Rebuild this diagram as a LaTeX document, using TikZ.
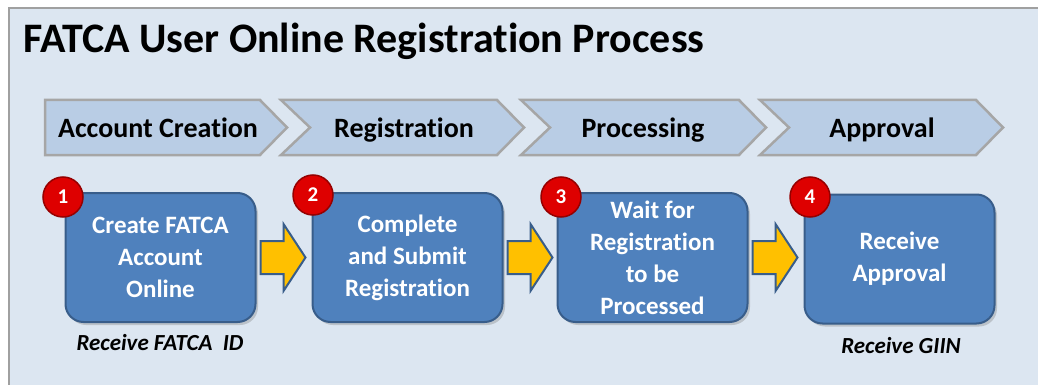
\documentclass[tikz,border=0pt]{standalone}
\usepackage{fontspec}
\setmainfont{Carlito}[Ligatures=NoCommon]
\usetikzlibrary{calc,shadows}
\definecolor{bgfill}{RGB}{220,230,241}
\definecolor{framegray}{RGB}{160,160,160}
\definecolor{chevfill}{RGB}{185,205,229}
\definecolor{chevdraw}{RGB}{166,166,166}
\definecolor{boxfill}{RGB}{79,129,189}
\definecolor{boxdraw}{RGB}{56,93,138}
\definecolor{arrfill}{RGB}{255,192,0}
\definecolor{badgefill}{RGB}{222,0,0}
\definecolor{badgedraw}{RGB}{150,0,0}
\newcommand\yarr[1]{%
  \draw[yarrow] ($(#1.east)+(4,-16.5)$) -- ++(23,0) -- ++(0,-17) -- ($(#1.east)+(49,0)$)
     -- ($(#1.east)+(27,33.5)$) -- ++(0,-17) -- ++(-23,0) -- cycle;}
\begin{document}
\begin{tikzpicture}[x=1pt,y=-1pt,
  frame/.style={fill=bgfill,draw=framegray,line width=2.5pt},
  chev/.style={fill=chevfill,draw=chevdraw,line width=2.5pt,line join=miter},
  chevtext/.style={anchor=base,font=\bfseries\fontsize{28}{30}\selectfont,text=black,inner sep=0pt},
  stepbox/.style={draw=boxdraw,fill=boxfill,line width=2pt,rounded corners=18pt,
     minimum width=190pt,minimum height=129pt,inner sep=0pt,align=center,text=white,
     font=\bfseries\fontsize{25}{32}\selectfont,
     drop shadow={opacity=0.35,shadow xshift=2.5pt,shadow yshift=-3pt}},
  badge/.style={circle,fill=badgefill,draw=badgedraw,line width=1.5pt,minimum size=40pt,inner sep=0pt,
     text=white,font=\bfseries\fontsize{21}{24}\selectfont},
  yarrow/.style={fill=arrfill,draw=boxdraw,line width=2pt,line join=miter},
  caption/.style={anchor=base,inner sep=0pt,font=\bfseries\itshape\fontsize{23}{26}\selectfont,text=black}]
\useasboundingbox (0,0) rectangle (1038,385);
\clip (0,0) rectangle (1038,385);
\fill[white] (0,0) rectangle (1038,385);
\draw[frame] (9,8) rectangle (1060,400);
\node[anchor=base west,inner sep=0pt,font=\bfseries\fontsize{42}{46}\selectfont] (title) at (23,53) {FATCA User Online Registration Process};
% chevrons
\draw[chev] (45,100) -- (260,100) -- (287,127.5) -- (260,155) -- (45,155) -- cycle;
\draw[chev] (281,100) -- (497,100) -- (524,127.5) -- (497,155) -- (281,155) -- (310,127.5) -- cycle;
\draw[chev] (521,100) -- (739,100) -- (766,127.5) -- (739,155) -- (521,155) -- (550,127.5) -- cycle;
\draw[chev] (760,100) -- (976,100) -- (1003,127.5) -- (976,155) -- (760,155) -- (789,127.5) -- cycle;
\node[chevtext] (c1) at (158,137) {Account Creation};
\node[chevtext] (c2) at (404,137) {Registration};
\node[chevtext] (c3) at (643,137) {Processing};
\node[chevtext] (c4) at (882,137) {Approval};
% boxes
\node[stepbox] (b1) at (160.5,257.5) {Create FATCA\\Account\\Online};
\node[stepbox] (b2) at (407.5,257.5) {Complete\\and Submit\\Registration};
\node[stepbox] (b3) at (652.5,257.5) {Wait for\\Registration\\to be\\Processed};
\node[stepbox] (b4) at (899.5,259) {Receive\\Approval};
% arrows
\yarr{b1}
\yarr{b2}
\yarr{b3}
% badges
\node[badge] (n1) at (63,197) {1};
\node[badge] (n2) at (313,195) {2};
\node[badge] (n3) at (561,197) {3};
\node[badge] (n4) at (810,197) {4};
% captions
\node[caption] (r1) at (160,350) {Receive FATCA\ \ ID};
\node[caption] (r4) at (901,353) {Receive GIIN};
\end{tikzpicture}
\end{document}
